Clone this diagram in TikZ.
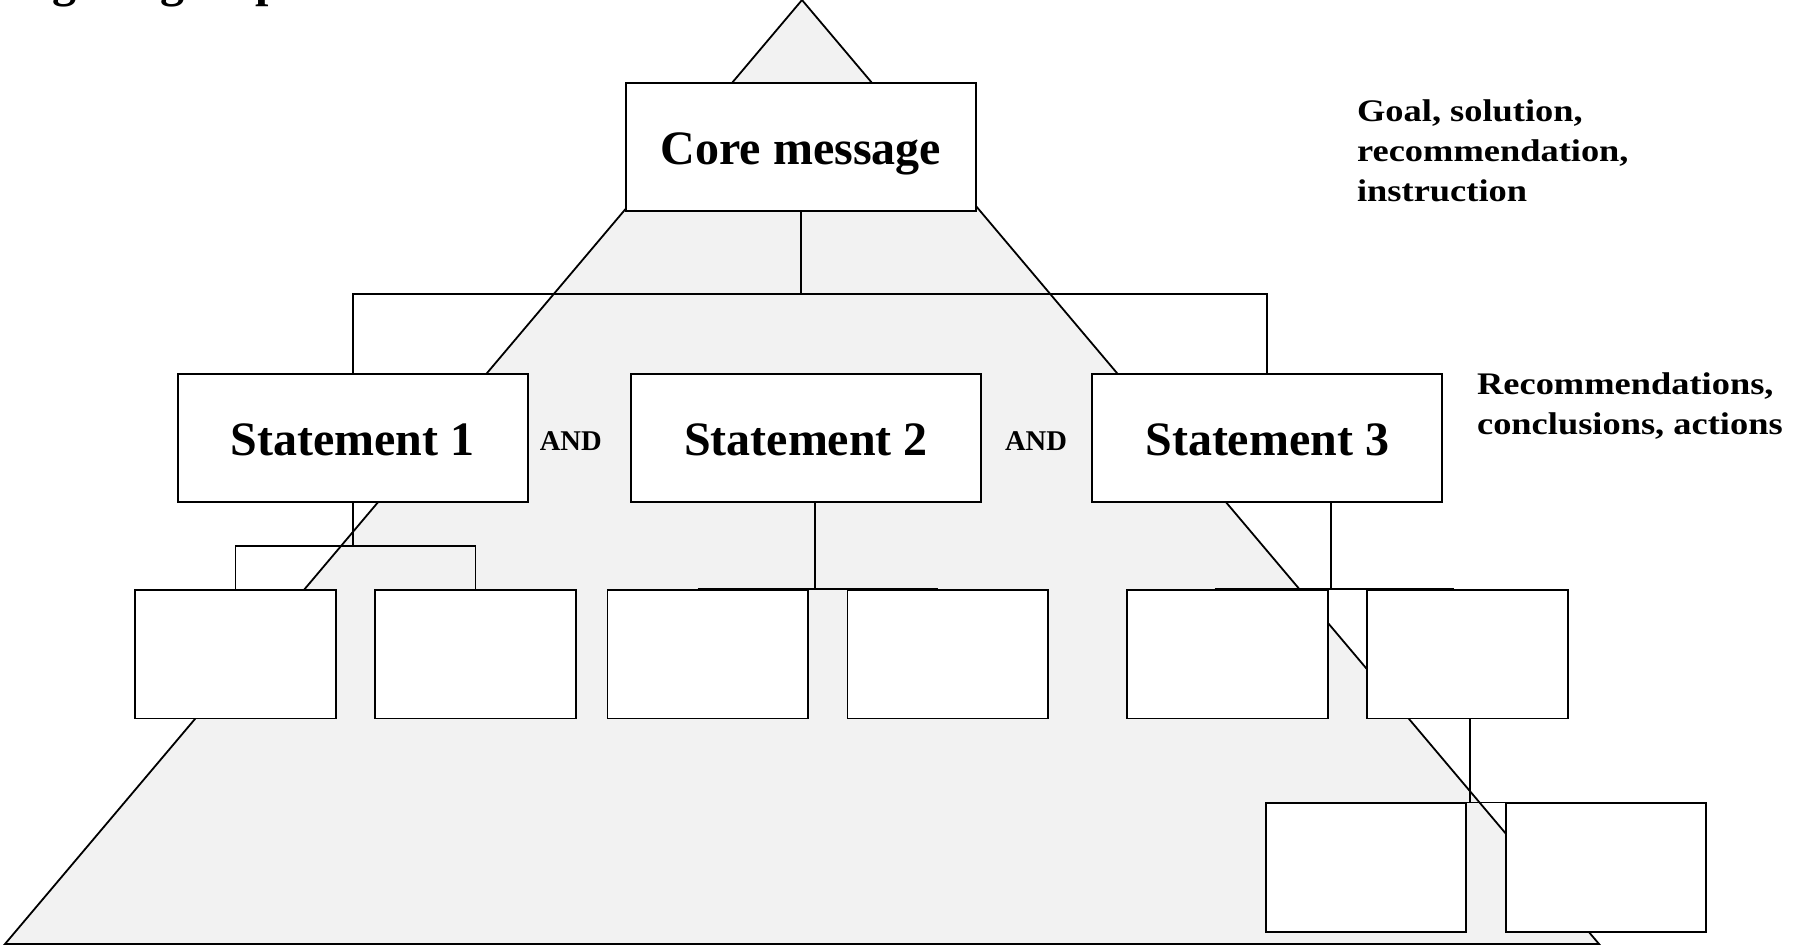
\documentclass[tikz,border=0pt]{standalone}
\usepackage{fontspec}
\setmainfont{Liberation Serif}
\newfontfamily\notefont{Liberation Serif}[FakeStretch=1.16]
\definecolor{pyrfill}{HTML}{F2F2F2}
\begin{document}
\begin{tikzpicture}[x=0.5pt,y=-0.5pt,
  edge/.style={line width=0.9pt},
  card/.style={draw, line width=0.9pt, fill=white, minimum width=175pt,
    minimum height=64pt, inner sep=0pt,
    font=\bfseries\fontsize{24}{28}\selectfont, text height=17pt, text depth=0pt},
  leaf/.style={draw, line width=0.9pt, fill=white, minimum width=100.2pt,
    minimum height=64.2pt, inner sep=0pt},
  conj/.style={font=\bfseries\fontsize{14.3}{17}\selectfont, anchor=base, inner sep=0pt},
  note/.style={font=\notefont\bfseries\fontsize{15.7}{20}\selectfont,
    align=left, anchor=base west, inner sep=0pt}
]
\useasboundingbox (0,0) rectangle (1795,947);

% heading running off the top edge
\node[font=\bfseries\fontsize{24}{28}\selectfont, anchor=base west, inner sep=0pt]
  (head) at (-4,-3) {Logical group};

% the pyramid behind everything
\filldraw[fill=pyrfill, line width=0.9pt, line join=miter] (802,0) -- (1599,944) -- (5,944) -- cycle;
\draw[line width=1.2pt] (5,944) -- (1599,944);

% boxes
\node[card] (core) at (801,147) {Core message};
\node[card] (s1) at (352.6,438.2) {Statement 1};
\node[card] (s2) at (806,438.2) {Statement 2};
\node[card] (s3) at (1267.3,438.2) {Statement 3};

\node[leaf] (c1) at (235.4,654.2) {};
\node[leaf] (c2) at (475.4,654.2) {};
\node[leaf] (c3) at (707.6,654.2) {};
\node[leaf] (c4) at (947.6,654.2) {};
\node[leaf] (c5) at (1227.5,654.2) {};
\node[leaf] (c6) at (1467.4,654.2) {};
\node[leaf] (c7) at (1366,867.5) {};
\node[leaf] (c8) at (1606,867.5) {};

% labels (base anchor sits on the last line)
\node[conj] (and1) at (570.8,450) {AND};
\node[conj] (and2) at (1036,450) {AND};
\node[note] (goal) at (1356.7,202) {Goal, solution,\\recommendation,\\instruction};
\node[note] (recs) at (1476.7,434) {Recommendations,\\conclusions, actions};

% connectors
\coordinate (bar) at (801,294.2);
\draw[edge] (core.south) -- (bar);
\draw[edge] (s1.north) |- (bar) -| (s3.north);

\coordinate (j1) at (352.7,546);
\draw[edge] (s1.south -| j1) -- (j1);
\draw[edge] (c1.north) |- (j1) -| (c2.north);

\coordinate (j2) at (814.6,590);
\draw[edge] (s2.south -| j2) -- (j2);
\draw[edge] ([xshift=-5pt]c3.north) -- ([xshift=-5pt]c4.north);

\coordinate (j3) at (1331.3,590);
\draw[edge] (s3.south -| j3) -- (j3);
\draw[edge] ([xshift=-6.5pt]c5.north) -- ([xshift=-6.5pt]c6.north);

\coordinate (j4) at (1470,803.3);
\draw[edge] (c6.south -| j4) -- (j4);
\draw[edge] ([xshift=-6.5pt]c7.north) -- ([xshift=-6.5pt]c8.north);
\end{tikzpicture}
\end{document}
